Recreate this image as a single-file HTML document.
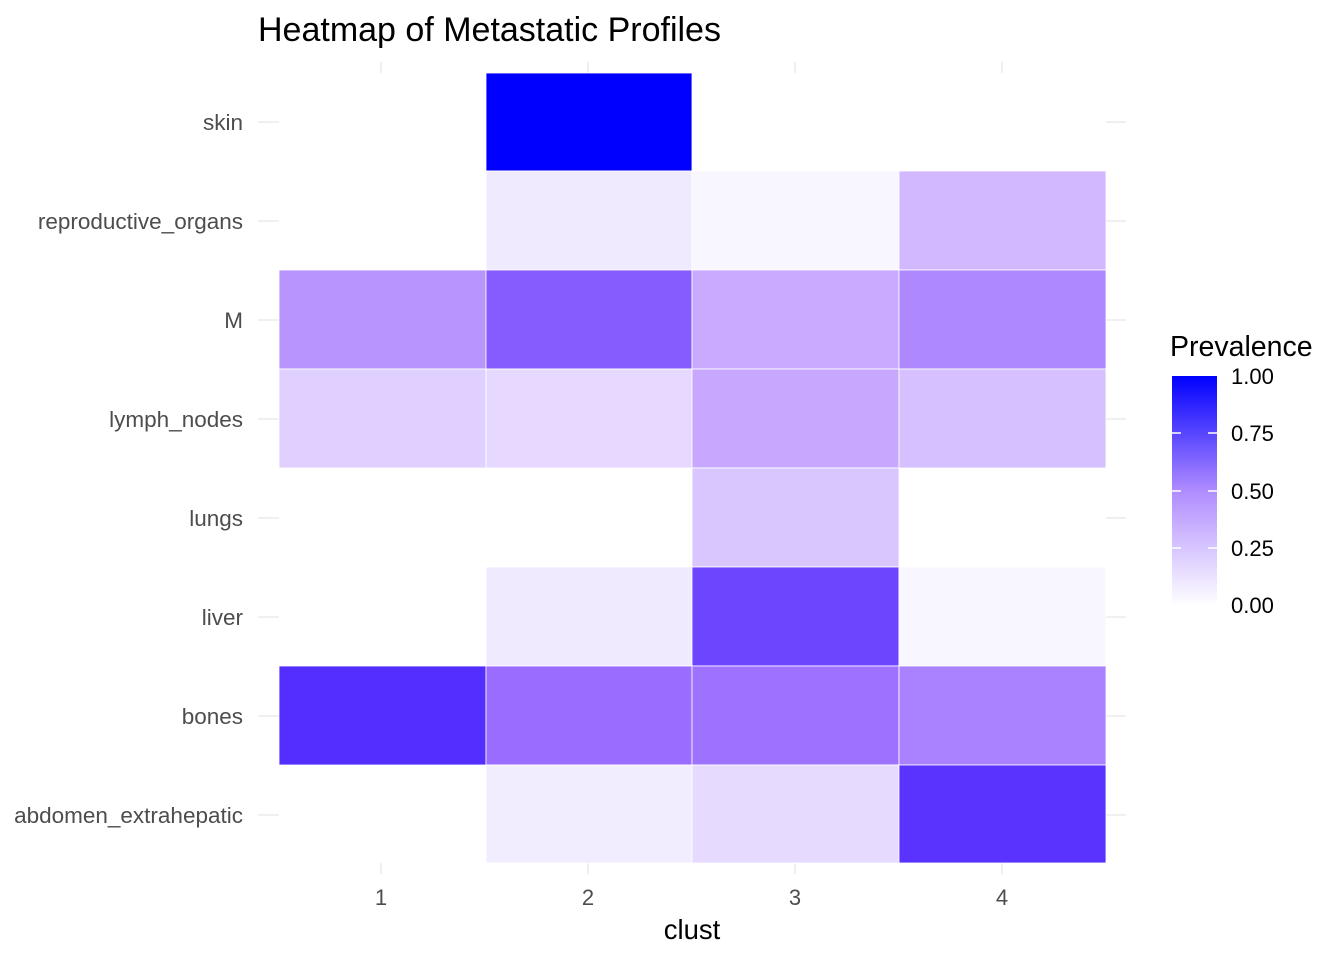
<!DOCTYPE html>
<html><head><style>body{margin:0;background:#fff}</style></head><body>
<svg width="1344" height="960" xmlns="http://www.w3.org/2000/svg" font-family="Liberation Sans, sans-serif">
<rect width="1344" height="960" fill="#fff"/>
<g stroke="#ebebeb" stroke-width="1.5">
<line x1="381" y1="62" x2="381" y2="874"/><line x1="588" y1="62" x2="588" y2="874"/>
<line x1="795" y1="62" x2="795" y2="874"/><line x1="1002" y1="62" x2="1002" y2="874"/>
<line x1="258" y1="122" x2="1126" y2="122"/><line x1="258" y1="221" x2="1126" y2="221"/>
<line x1="258" y1="320" x2="1126" y2="320"/><line x1="258" y1="419" x2="1126" y2="419"/>
<line x1="258" y1="518" x2="1126" y2="518"/><line x1="258" y1="617" x2="1126" y2="617"/>
<line x1="258" y1="716" x2="1126" y2="716"/><line x1="258" y1="815" x2="1126" y2="815"/>
</g>
<rect x="279" y="73" width="827" height="790" fill="#fff"/>
<g stroke="#fff" stroke-width="0.8">
<rect x="486" y="73" width="206" height="98" fill="#0000FF"/>
<rect x="486" y="171" width="206" height="99" fill="#F0EAFF"/>
<rect x="692" y="171" width="207" height="99" fill="#F8F6FF"/>
<rect x="899" y="171" width="207" height="99" fill="#D2B8FF"/>
<rect x="279" y="270" width="207" height="99" fill="#B894FF"/>
<rect x="486" y="270" width="206" height="99" fill="#875CFF"/>
<rect x="692" y="270" width="207" height="99" fill="#C9AAFF"/>
<rect x="899" y="270" width="207" height="99" fill="#AD88FF"/>
<rect x="279" y="369" width="207" height="99" fill="#E0D0FF"/>
<rect x="486" y="369" width="206" height="99" fill="#E6D8FF"/>
<rect x="692" y="369" width="207" height="99" fill="#C8A8FF"/>
<rect x="899" y="369" width="207" height="99" fill="#D7C0FF"/>
<rect x="692" y="468" width="207" height="99" fill="#DAC6FF"/>
<rect x="486" y="567" width="206" height="99" fill="#F0EAFF"/>
<rect x="692" y="567" width="207" height="99" fill="#6E45FF"/>
<rect x="899" y="567" width="207" height="99" fill="#F8F6FF"/>
<rect x="279" y="666" width="207" height="99" fill="#542EFF"/>
<rect x="486" y="666" width="206" height="99" fill="#9A6CFF"/>
<rect x="692" y="666" width="207" height="99" fill="#9E72FF"/>
<rect x="899" y="666" width="207" height="99" fill="#AA82FF"/>
<rect x="486" y="765" width="206" height="98" fill="#F2ECFF"/>
<rect x="692" y="765" width="207" height="98" fill="#E6DAFF"/>
<rect x="899" y="765" width="207" height="98" fill="#5B33FF"/>
</g>
<g font-size="22.5" fill="#4d4d4d" text-anchor="end">
<text x="243" y="130">skin</text><text x="243" y="229">reproductive_organs</text>
<text x="243" y="328">M</text><text x="243" y="427">lymph_nodes</text>
<text x="243" y="526">lungs</text><text x="243" y="625">liver</text>
<text x="243" y="724">bones</text><text x="243" y="823">abdomen_extrahepatic</text>
</g>
<g font-size="22" fill="#4d4d4d" text-anchor="middle">
<text x="381" y="905">1</text><text x="588" y="905">2</text><text x="795" y="905">3</text><text x="1002" y="905">4</text>
</g>
<text x="692" y="939" font-size="27.5" text-anchor="middle" fill="#000">clust</text>
<text x="258" y="41" font-size="34" fill="#000">Heatmap of Metastatic Profiles</text>
<text x="1170" y="356" font-size="28.5" fill="#000">Prevalence</text>
<defs><linearGradient id="g" x1="0" y1="1" x2="0" y2="0"><stop offset="0" stop-color="#fff"/><stop offset="0.5" stop-color="#B08CFF"/><stop offset="1" stop-color="#0000FF"/></linearGradient></defs>
<rect x="1172" y="376" width="45" height="230" fill="url(#g)"/>
<g stroke="#fff" stroke-width="1.5">
<line x1="1172" y1="433" x2="1181" y2="433"/><line x1="1208" y1="433" x2="1217" y2="433"/>
<line x1="1172" y1="491" x2="1181" y2="491"/><line x1="1208" y1="491" x2="1217" y2="491"/>
<line x1="1172" y1="548" x2="1181" y2="548"/><line x1="1208" y1="548" x2="1217" y2="548"/>
</g>
<g font-size="22" fill="#000">
<text x="1231" y="384">1.00</text><text x="1231" y="441">0.75</text><text x="1231" y="499">0.50</text><text x="1231" y="556">0.25</text><text x="1231" y="613">0.00</text>
</g>
</svg>
</body></html>
